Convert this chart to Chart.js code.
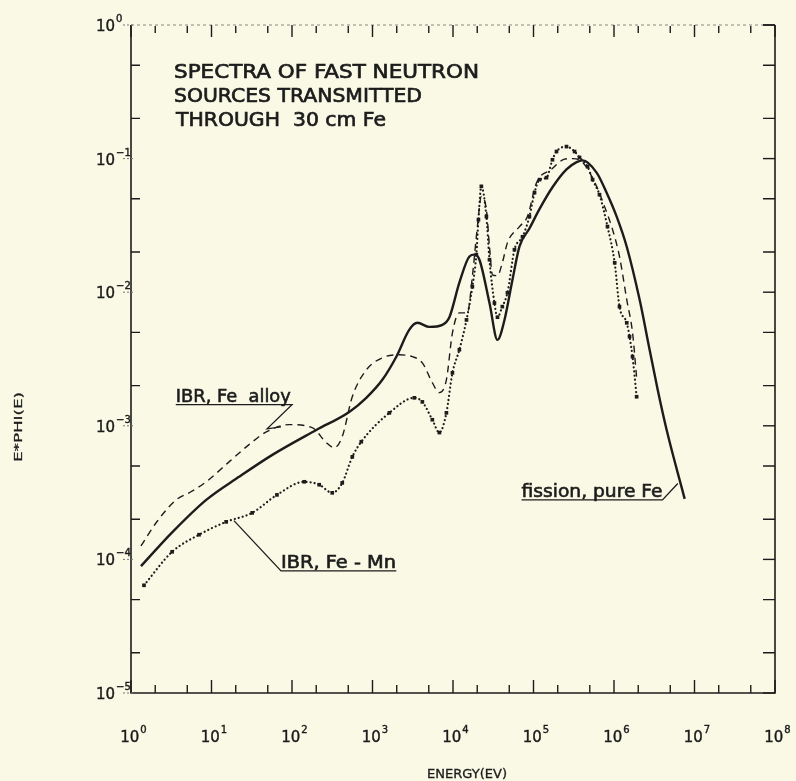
<!DOCTYPE html>
<html>
<head>
<meta charset="utf-8">
<script src="https://cdn.jsdelivr.net/npm/chart.js@4.4.1/dist/chart.umd.min.js"></script>
<style>
  html, body { margin: 0; padding: 0; background: #f9f9e6; }
  canvas { display: block; }
</style>
</head>
<body>
<canvas id="spectra" width="796" height="781"></canvas>
<script>
// fission source, pure Fe (solid)
const fissionE = [1.33, 3.2, 8.6, 22, 57, 200, 514, 837, 1325, 1977, 2870, 3610, 5090, 7380, 9020,
  1.2e4, 1.6e4, 1.85e4, 2.13e4, 2.84e4, 3.57e4, 4.36e4, 5.48e4, 6.7e4, 8.9e4, 1.19e5, 1.72e5,
  2.57e5, 3.43e5, 4.07e5, 6.08e5, 8.1e5, 1.08e6, 1.44e6, 2.08e6, 2.77e6, 3.49e6, 4.51e6, 7.55e6];
const fissionPhi = [8.9e-5, 1.58e-4, 2.79e-4, 4.15e-4, 6.06e-4, 9.3e-4, 1.27e-3, 1.62e-3, 2.21e-3,
  3.29e-3, 5.24e-3, 5.9e-3, 5.5e-3, 5.7e-3, 6.5e-3, 1.18e-2, 1.85e-2, 1.91e-2, 1.75e-2, 8.3e-3,
  4.4e-3, 6.2e-3, 1.24e-2, 2.2e-2, 3.0e-2, 4.2e-2, 6.1e-2, 8.3e-2, 9.4e-2, 9.7e-2, 7.86e-2,
  5.56e-2, 3.68e-2, 2.19e-2, 8.8e-3, 3.71e-3, 1.86e-3, 9.3e-4, 2.84e-4];

// IBR, Fe alloy (dashed)
const alloyE = [1.33, 2.05, 3.63, 5.27, 8.6, 16.5, 29, 48, 92, 178, 266, 335, 421, 561, 837, 1325,
  2150, 3125, 4160, 5540, 6770, 8280, 9840, 1.2e4, 1.51e4, 1.74e4, 2.01e4, 2.25e4, 2.6e4, 2.84e4,
  3.09e4, 3.57e4, 4.1e4, 4.75e4, 6.7e4, 8.4e4, 1.09e5, 1.67e5, 2.43e5, 3.05e5, 4.07e5, 6.1e5,
  7.64e5, 9.6e5, 1.17e6, 1.44e6, 1.7e6, 1.91e6];
const alloyPhi = [1.26e-4, 1.88e-4, 2.79e-4, 3.15e-4, 3.81e-4, 5.37e-4, 7.2e-4, 9.0e-4, 1.02e-3,
  9.7e-4, 7.5e-4, 6.85e-4, 8.3e-4, 1.65e-3, 2.62e-3, 3.23e-3, 3.4e-3, 3.29e-3, 2.96e-3, 2.1e-3,
  1.77e-3, 2.21e-3, 4.97e-3, 7.0e-3, 7.0e-3, 1.31e-2, 3.1e-2, 5.2e-2, 4.15e-2, 2.19e-2, 1.35e-2,
  1.33e-2, 1.66e-2, 2.35e-2, 3.1e-2, 3.68e-2, 6.6e-2, 8.3e-2, 9.9e-2, 0.1, 9.4e-2, 6.17e-2,
  4.37e-2, 2.94e-2, 1.85e-2, 8.8e-3, 4.97e-3, 2.29e-3];

// IBR, Fe-Mn (dotted with square markers)
const mnE = [1.45, 3.24, 7.0, 15.2, 32, 65, 142, 218, 316, 421, 561, 726, 1620, 3310, 4160, 5540,
  6770, 8280, 9840, 1.2e4, 1.47e4, 1.74e4, 1.95e4, 2.07e4, 2.25e4, 2.6e4, 2.84e4, 3.27e4, 3.57e4,
  4.1e4, 4.75e4, 5.8e4, 7.3e4, 8.9e4, 1.03e5, 1.19e5, 1.45e5, 1.72e5, 1.93e5, 2.57e5, 3.24e5,
  3.73e5, 4.7e5, 5.42e5, 6.6e5, 8.3e5, 1.02e6, 1.17e6, 1.44e6, 1.56e6, 1.7e6, 1.91e6];
const mnPhi = [6.4e-5, 1.14e-4, 1.53e-4, 1.91e-4, 2.23e-4, 3.04e-4, 3.81e-4, 3.62e-4, 3.15e-4,
  3.74e-4, 5.86e-4, 7.6e-4, 1.25e-3, 1.62e-3, 1.51e-3, 1.11e-3, 8.9e-4, 1.25e-3, 2.49e-3, 3.71e-3,
  6.2e-3, 1.1e-2, 1.91e-2, 3.49e-2, 6.2e-2, 3.68e-2, 1.75e-2, 8.3e-3, 6.5e-3, 7.8e-3, 9.9e-3,
  2.08e-2, 2.6e-2, 3.68e-2, 5.56e-2, 6.96e-2, 7.2e-2, 9.8e-2, 0.113, 0.123, 0.113, 0.102,
  8.7e-2, 6.96e-2, 5.37e-2, 3.1e-2, 1.66e-2, 7.8e-3, 5.9e-3, 4.65e-3, 3.29e-3, 1.65e-3];

// axis decades (exponents of ten)
const xTickPowers = [0, 1, 2, 3, 4, 5, 6, 7, 8];
const yTickPowers = [0, -1, -2, -3, -4, -5];
const minorSteps = [2, 5];

const titleLines = ['SPECTRA OF FAST NEUTRON', 'SOURCES TRANSMITTED', 'THROUGH  30 cm Fe'];
const xTitle = 'ENERGY(EV)';
const yTitle = 'E*PHI(E)';

const INK = '#1c1c1c';
const PAPER = '#f9f9e6';
const FONT = '"DejaVu Sans", sans-serif';

const toPoints = (xs, ys) => xs.map((x, i) => ({ x: x, y: ys[i] }));

// draw text squeezed/stretched to a given width, left aligned at (x, y);
// a thin stroke gives the heavier pen look
function fitText(ctx, str, x, y, size, width, pen) {
  ctx.save();
  ctx.font = size + 'px ' + FONT;
  const w = ctx.measureText(str).width;
  ctx.translate(x, y);
  ctx.scale(width ? width / w : 1, 1);
  ctx.textAlign = 'left';
  ctx.textBaseline = 'alphabetic';
  ctx.fillText(str, 0, 0);
  if (pen) {
    ctx.lineWidth = pen;
    ctx.strokeText(str, 0, 0);
  }
  ctx.restore();
}

function powerLabel(ctx, exp, cx, baseY, align) {
  ctx.save();
  ctx.lineWidth = 0.4;
  ctx.font = '15px ' + FONT;
  const base = '10';
  const bw = ctx.measureText(base).width;
  ctx.font = '10px ' + FONT;
  const ew = ctx.measureText(String(exp)).width;
  const left = align === 'right' ? cx - bw : cx - (bw + ew) / 2 + 2;
  const sup = String(exp).replace('-', '\u2212');
  ctx.font = '15px ' + FONT;
  ctx.textBaseline = 'alphabetic';
  ctx.fillText(base, left, baseY);
  ctx.strokeText(base, left, baseY);
  ctx.font = '10px ' + FONT;
  ctx.fillText(sup, left + bw + 1, baseY - 9);
  ctx.strokeText(sup, left + bw + 1, baseY - 9);
  ctx.restore();
}

const paper = {
  id: 'paper',
  beforeDraw(chart) {
    const ctx = chart.ctx;
    ctx.save();
    ctx.fillStyle = PAPER;
    ctx.fillRect(0, 0, chart.width, chart.height);
    ctx.restore();
  },
  afterDraw(chart) {
    const ctx = chart.ctx;
    const a = chart.chartArea;
    const xs = chart.scales.x, ys = chart.scales.y;
    ctx.save();
    ctx.strokeStyle = INK;
    ctx.fillStyle = INK;

    // frame: top edge is faint on the plotter sheet
    ctx.lineWidth = 1.6;
    ctx.beginPath();
    ctx.moveTo(a.left, a.top); ctx.lineTo(a.left, a.bottom); ctx.lineTo(a.right, a.bottom);
    ctx.lineTo(a.right, a.top);
    ctx.stroke();
    ctx.save();
    ctx.strokeStyle = '#8a8a80';
    ctx.lineWidth = 1;
    ctx.setLineDash([3, 3]);
    ctx.beginPath(); ctx.moveTo(a.left, a.top); ctx.lineTo(a.right - 12, a.top); ctx.stroke();
    ctx.restore();
    ctx.beginPath(); ctx.moveTo(a.right - 12, a.top); ctx.lineTo(a.right, a.top); ctx.stroke();

    // x ticks top and bottom
    ctx.lineWidth = 1.4;
    xTickPowers.forEach((p, i) => {
      const px = xs.getPixelForValue(Math.pow(10, p));
      ctx.beginPath();
      ctx.moveTo(px, a.bottom); ctx.lineTo(px, a.bottom - 13);
      ctx.moveTo(px, a.top); ctx.lineTo(px, a.top + 12);
      ctx.stroke();
      if (i < xTickPowers.length - 1) {
        minorSteps.forEach(m => {
          const mx = xs.getPixelForValue(m * Math.pow(10, p));
          ctx.beginPath();
          ctx.moveTo(mx, a.bottom); ctx.lineTo(mx, a.bottom - 8);
          ctx.moveTo(mx, a.top + 1); ctx.lineTo(mx, a.top + 8);
          ctx.stroke();
        });
      }
      powerLabel(ctx, p, px, a.bottom + 49, 'center');
    });

    // y ticks left and right
    yTickPowers.forEach(p => {
      const py = ys.getPixelForValue(Math.pow(10, p));
      ctx.lineWidth = 1.4;
      ctx.beginPath();
      ctx.moveTo(a.right, py); ctx.lineTo(a.right - 12, py);
      ctx.stroke();
      ctx.save();
      ctx.lineWidth = 1;
      ctx.strokeStyle = '#777770';
      ctx.setLineDash([2, 2]);
      ctx.beginPath(); ctx.moveTo(a.left - 8, py); ctx.lineTo(a.left + 4, py); ctx.stroke();
      ctx.restore();
      if (p > yTickPowers[yTickPowers.length - 1]) {
        minorSteps.forEach(m => {
          const my = ys.getPixelForValue(m * Math.pow(10, p - 1));
          ctx.beginPath();
          ctx.moveTo(a.right, my); ctx.lineTo(a.right - 12, my);
          ctx.moveTo(a.left, my); ctx.lineTo(a.left + 9, my);
          ctx.stroke();
        });
      }
      powerLabel(ctx, p, a.left - 16, py + 6, 'right');
    });

    // axis titles
    fitText(ctx, xTitle, (a.left + a.right) / 2 - 26, a.bottom + 85, 12, 80, 0.3);
    ctx.save();
    ctx.translate(22, 462);
    ctx.rotate(-Math.PI / 2);
    fitText(ctx, yTitle, 0, 0, 11, 70, 0.3);
    ctx.restore();

    // title block
    const tx = a.left + 43;
    fitText(ctx, titleLines[0], tx, a.top + 53, 20, 305, 0.7);
    fitText(ctx, titleLines[1], tx, a.top + 77, 20, 248, 0.7);
    fitText(ctx, titleLines[2], tx + 2, a.top + 101, 20, 210, 0.7);

    // curve labels with leader lines, anchored in data coordinates
    const P = (e, v) => [xs.getPixelForValue(e), ys.getPixelForValue(v)];

    // IBR, Fe alloy
    let t = P(3.6, 1.51e-3);
    fitText(ctx, 'IBR, Fe  alloy', t[0], t[1], 18, 115, 0.6);
    let u0 = P(3.6, 1.44e-3), u1 = P(100, 1.44e-3), z1 = P(49, 9.5e-4), z2 = P(73, 9.8e-4);
    ctx.lineWidth = 1.3;
    ctx.beginPath();
    ctx.moveTo(u0[0], u0[1]); ctx.lineTo(u1[0], u1[1]); ctx.lineTo(z1[0], z1[1]); ctx.lineTo(z2[0], z2[1]);
    ctx.stroke();

    // IBR, Fe - Mn
    t = P(73, 8.6e-5);
    fitText(ctx, 'IBR, Fe - Mn', t[0], t[1], 17, 115, 0.6);
    u0 = P(73, 8.2e-5); u1 = P(1977, 8.2e-5); z1 = P(19, 1.95e-4);
    ctx.lineWidth = 1.3;
    ctx.beginPath();
    ctx.moveTo(z1[0], z1[1]); ctx.lineTo(u0[0], u0[1]); ctx.lineTo(u1[0], u1[1]);
    ctx.stroke();

    // fission, pure Fe
    t = P(7.1e4, 2.94e-4);
    fitText(ctx, 'fission, pure Fe', t[0], t[1], 17, 141, 0.6);
    u0 = P(7.1e4, 2.79e-4); u1 = P(4.0e6, 2.79e-4); z1 = P(6.2e6, 3.7e-4);
    ctx.lineWidth = 1.3;
    ctx.beginPath();
    ctx.moveTo(u0[0], u0[1]); ctx.lineTo(u1[0], u1[1]); ctx.lineTo(z1[0], z1[1]);
    ctx.stroke();

    ctx.restore();
  }
};

new Chart(document.getElementById('spectra'), {
  type: 'line',
  data: {
    datasets: [
      {
        label: 'fission, pure Fe',
        data: toPoints(fissionE, fissionPhi),
        borderColor: INK,
        borderWidth: 2.4,
        pointRadius: 0,
        cubicInterpolationMode: 'monotone'
      },
      {
        label: 'IBR, Fe alloy',
        data: toPoints(alloyE, alloyPhi),
        borderColor: INK,
        borderWidth: 1.4,
        borderDash: [7, 5],
        pointRadius: 0,
        cubicInterpolationMode: 'monotone'
      },
      {
        label: 'IBR, Fe - Mn',
        data: toPoints(mnE, mnPhi),
        borderColor: INK,
        borderWidth: 2.2,
        borderDash: [0.1, 4],
        borderCapStyle: 'round',
        pointStyle: 'rect',
        pointRadius: 2.6,
        pointBorderWidth: 0,
        pointBackgroundColor: INK,
        cubicInterpolationMode: 'monotone'
      }
    ]
  },
  options: {
    responsive: false,
    animation: false,
    layout: { padding: { left: 131, right: 21, top: 25, bottom: 88 } },
    scales: {
      x: { type: 'logarithmic', min: 1, max: 1e8, display: false },
      y: { type: 'logarithmic', min: 1e-5, max: 1, display: false }
    },
    plugins: {
      legend: { display: false },
      tooltip: { enabled: false }
    }
  },
  plugins: [paper]
});
</script>
</body>
</html>
